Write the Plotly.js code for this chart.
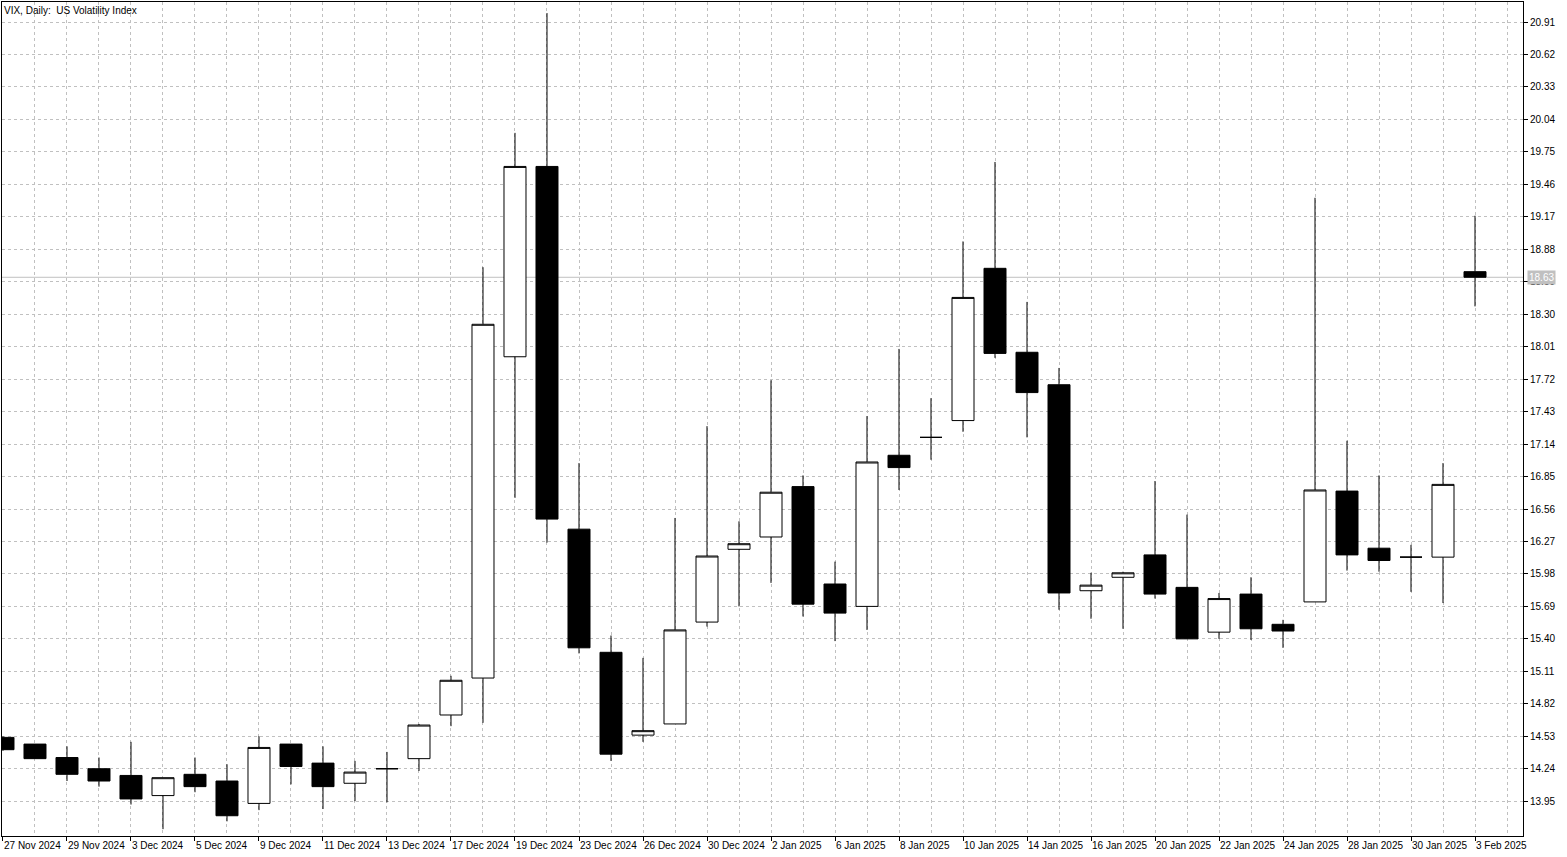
<!DOCTYPE html>
<html>
<head>
<meta charset="utf-8">
<script src="https://cdn.plot.ly/plotly-3.0.1.min.js"></script>
<style>html,body{margin:0;padding:0;background:#fff;}#chart{width:1567px;height:857px;}</style>
</head>
<body>
<div id="chart"></div>
<script>
const dates = ['27 Nov 2024','28 Nov 2024','29 Nov 2024','2 Dec 2024','3 Dec 2024','4 Dec 2024','5 Dec 2024','6 Dec 2024','9 Dec 2024','10 Dec 2024','11 Dec 2024','12 Dec 2024','13 Dec 2024','16 Dec 2024','17 Dec 2024','18 Dec 2024','19 Dec 2024','20 Dec 2024','23 Dec 2024','24 Dec 2024','26 Dec 2024','27 Dec 2024','30 Dec 2024','31 Dec 2024','2 Jan 2025','3 Jan 2025','6 Jan 2025','7 Jan 2025','8 Jan 2025','9 Jan 2025','10 Jan 2025','13 Jan 2025','14 Jan 2025','15 Jan 2025','16 Jan 2025','17 Jan 2025','20 Jan 2025','21 Jan 2025','22 Jan 2025','23 Jan 2025','24 Jan 2025','27 Jan 2025','28 Jan 2025','29 Jan 2025','30 Jan 2025','31 Jan 2025','3 Feb 2025'];
const openV  = [14.52,14.46,14.34,14.24,14.18,14.00,14.19,14.13,13.93,14.46,14.29,14.11,14.24,14.33,14.72,15.05,17.92,19.62,16.38,15.28,14.54,14.64,15.55,16.20,16.31,16.76,15.89,15.69,17.04,17.20,17.35,18.71,17.96,17.67,15.83,15.95,16.15,15.86,15.46,15.80,15.53,15.73,16.72,16.21,16.13,16.13,18.68];
const highV  = [14.53,14.46,14.44,14.34,14.48,14.16,14.34,14.28,14.53,14.46,14.44,14.31,14.39,14.64,15.07,18.72,19.92,20.99,16.97,15.43,15.23,16.48,17.30,16.45,17.71,16.86,16.09,17.39,17.99,17.55,18.95,19.66,18.41,17.82,15.99,16.00,16.81,16.51,15.81,15.95,15.57,19.34,17.17,16.86,16.24,16.97,19.18];
const lowV   = [14.40,14.33,14.13,14.08,13.92,13.70,14.03,13.77,13.87,14.10,13.88,13.95,13.94,14.22,14.62,14.65,16.66,16.26,15.27,14.31,14.48,14.64,15.51,15.69,15.90,15.60,15.38,15.48,16.73,17.00,17.25,17.91,17.20,15.66,15.58,15.49,15.76,15.40,15.40,15.39,15.32,15.73,16.01,16.00,15.82,15.72,18.37];
const closeV = [14.41,14.33,14.19,14.13,13.97,14.16,14.08,13.82,14.43,14.26,14.08,14.21,14.24,14.63,15.03,18.21,19.62,16.47,15.32,14.37,14.58,15.48,16.14,16.25,16.71,15.71,15.63,16.98,16.93,17.20,18.45,17.95,17.60,15.81,15.88,15.99,15.80,15.40,15.76,15.49,15.47,16.73,16.15,16.10,16.13,16.78,18.63];
const priceTicks = [13.95,14.24,14.53,14.82,15.11,15.40,15.69,15.98,16.27,16.56,16.85,17.14,17.43,17.72,18.01,18.30,18.59,18.88,19.17,19.46,19.75,20.04,20.33,20.62,20.91];
const titleText = 'VIX, Daily:  US Volatility Index';

const idx = dates.map((d, i) => i);
const majorIdx = idx.filter(i => i % 2 === 0);
const minorIdx = [];
for (let i = 1; i <= dates.length; i += 2) minorIdx.push(i);
const lastClose = closeV[closeV.length - 1];

const FONT = 'Liberation Sans, Arial, sans-serif';
const GRID = '#c0c0c0';

const trace = {
  type: 'candlestick',
  x: idx,
  open: openV, high: highV, low: lowV, close: closeV,
  increasing: {line: {color: '#000000', width: 1}, fillcolor: '#ffffff'},
  decreasing: {line: {color: '#000000', width: 1}, fillcolor: '#000000'},
  whiskerwidth: 0,
  hoverinfo: 'skip',
  showlegend: false
};

const layout = {
  width: 1567, height: 857,
  margin: {l: 2, r: 44, t: 2, b: 21, pad: 0},
  paper_bgcolor: '#ffffff', plot_bgcolor: '#ffffff',
  showlegend: false,
  boxgap: 0.3125,
  boxgroupgap: 0,
  font: {family: FONT, size: 10, color: '#000000'},
  xaxis: {
    range: [-0.031, 47.5],
    tickmode: 'array', tickvals: majorIdx, ticktext: majorIdx.map(i => dates[i]),
    tickangle: 0,
    ticks: 'outside', ticklen: 4, tickwidth: 1, tickcolor: '#000000',
    ticklabelposition: 'outside right',
    tickfont: {family: FONT, size: 10, color: '#000000'},
    showline: true, linecolor: '#000000', linewidth: 1, mirror: true,
    showgrid: true, gridcolor: GRID, gridwidth: 1, griddash: '3px,3px',
    minor: {tickmode: 'array', tickvals: minorIdx, ticks: '', showgrid: true, gridcolor: GRID, gridwidth: 1, griddash: '3px,3px'},
    zeroline: false,
    rangeslider: {visible: false},
    fixedrange: true
  },
  yaxis: {
    side: 'right',
    range: [13.639, 21.089],
    tickmode: 'array', tickvals: priceTicks, ticktext: priceTicks.map(v => v.toFixed(2)),
    ticks: 'outside', ticklen: 4, tickwidth: 1, tickcolor: '#000000',
    tickfont: {family: FONT, size: 10, color: '#000000'},
    showline: true, linecolor: '#000000', linewidth: 1, mirror: true,
    showgrid: true, gridcolor: GRID, gridwidth: 1, griddash: '3px,3px',
    zeroline: false,
    fixedrange: true
  },
  shapes: [{
    type: 'line', xref: 'paper', yref: 'y', x0: 0, x1: 1, y0: lastClose, y1: lastClose,
    line: {color: GRID, width: 1}, layer: 'below'
  }],
  annotations: [
    {xref: 'paper', yref: 'paper', x: 0, y: 1, xanchor: 'left', yanchor: 'top', xshift: 0, yshift: -1,
     text: titleText, showarrow: false, font: {family: FONT, size: 10, color: '#000000'}},
    {xref: 'paper', yref: 'y', x: 1, y: lastClose, xanchor: 'left', yanchor: 'middle', xshift: 4,
     text: lastClose.toFixed(2), showarrow: false, bgcolor: GRID, borderpad: 1,
     font: {family: FONT, size: 10, color: '#ffffff'}}
  ]
};

Plotly.newPlot('chart', [trace], layout, {displayModeBar: false, staticPlot: true});
</script>
</body>
</html>
